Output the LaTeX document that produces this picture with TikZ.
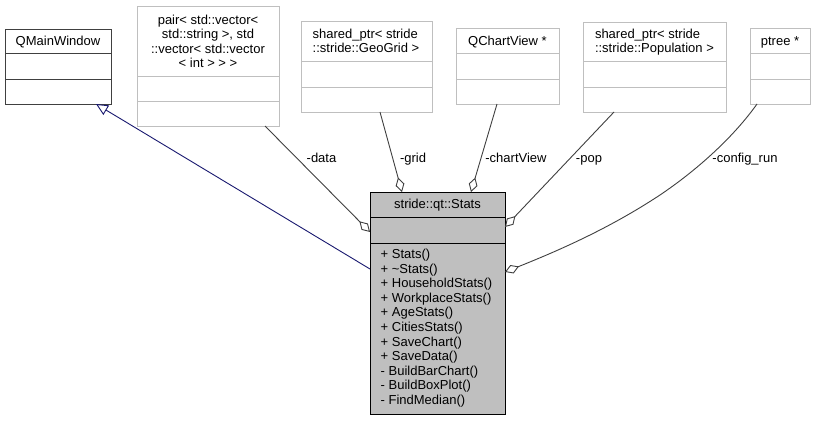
\documentclass[tikz,border=0pt]{standalone}
\usepackage{fontspec}
\setmainfont{Liberation Sans}
\usetikzlibrary{arrows.meta}
\definecolor{edgec}{HTML}{404040}
\definecolor{lightc}{HTML}{BFBFBF}
\definecolor{navyc}{HTML}{191970}
\definecolor{statsfill}{HTML}{BFBFBF}
\newcommand{\dfont}{\fontsize{13}{14.6}\selectfont}
\begin{document}
\begin{tikzpicture}[x=1pt,y=-1pt,
  every node/.style={inner sep=0pt, outer sep=0pt},
  classbox/.style={draw=lightc, line width=1pt, rectangle, anchor=north west},
  basebox/.style={draw=edgec, line width=1pt, rectangle, anchor=north west},
  mainbox/.style={draw=black, fill=statsfill, line width=1pt, rectangle, anchor=north west},
  aggr/.style={draw=edgec, line width=0.9pt, -{Diamond[open, length=15pt, width=9pt]}},
  inherit/.style={draw=navyc, line width=0.9pt, -{Triangle[open, length=12pt, width=11pt]}},
  ctext/.style={anchor=base, font=\dfont},
  ltext/.style={anchor=base west, font=\dfont}]
\useasboundingbox (0,0) rectangle (815,421);
\fill[white] (0,0) rectangle (815,421);

% QMainWindow
\node[basebox, minimum width=106pt, minimum height=75pt] (qmw) at (5,29) {};
\draw[edgec, line width=1pt] (5,53) -- (111,53) (5,79) -- (111,79);
\node[ctext] (qmwt) at (58,45) {QMainWindow};

% pair box
\node[classbox, minimum width=142pt, minimum height=120pt] (pair) at (137,6) {};
\draw[lightc, line width=1pt] (137,76) -- (279,76) (137,101) -- (279,101);
\node[ctext] (pair1) at (208,24) {pair< std::vector<};
\node[ctext] (pair2) at (208,38.5) {std::string >, std};
\node[ctext] (pair3) at (208,53) {::vector< std::vector};
\node[ctext] (pair4) at (208,67.5) {< int > > >};

% GeoGrid
\node[classbox, minimum width=131pt, minimum height=91pt] (geo) at (301,21) {};
\draw[lightc, line width=1pt] (301,61) -- (432,61) (301,87) -- (432,87);
\node[ltext] (geo1) at (312.7,38) {shared\_ptr< stride};
\node[ltext] (geo2) at (312.7,52.5) {::stride::GeoGrid >};

% QChartView
\node[classbox, minimum width=103pt, minimum height=76pt] (qcv) at (456,28) {};
\draw[lightc, line width=1pt] (456,53) -- (559,53) (456,79) -- (559,79);
\node[ctext] (qcvt) at (507.5,45) {QChartView *};

% Population
\node[classbox, minimum width=143pt, minimum height=90pt] (popb) at (583,22) {};
\draw[lightc, line width=1pt] (583,61) -- (726,61) (583,87) -- (726,87);
\node[ltext] (pop1) at (595,38) {shared\_ptr< stride};
\node[ltext] (pop2) at (595,52.5) {::stride::Population >};

% ptree
\node[classbox, minimum width=60pt, minimum height=76pt] (ptree) at (750,28) {};
\draw[lightc, line width=1pt] (750,53) -- (810,53) (750,79) -- (810,79);
\node[ctext] (ptreet) at (780,45) {ptree *};

% Stats
\node[mainbox, minimum width=135pt, minimum height=222pt] (stats) at (370,192) {};
\draw[black, line width=1pt] (370,217) -- (505,217) (370,243) -- (505,243);
\node[ctext] (statst) at (437.5,208.5) {stride::qt::Stats};
\node[ltext] (m1) at (380.7,258.5) {+ Stats()};
\node[ltext] (m2) at (380.7,273.1) {+ \textasciitilde Stats()};
\node[ltext] (m3) at (380.7,287.7) {+ HouseholdStats()};
\node[ltext] (m4) at (380.7,302.3) {+ WorkplaceStats()};
\node[ltext] (m5) at (380.7,316.9) {+ AgeStats()};
\node[ltext] (m6) at (380.7,331.5) {+ CitiesStats()};
\node[ltext] (m7) at (380.7,346.1) {+ SaveChart()};
\node[ltext] (m8) at (380.7,360.7) {+ SaveData()};
\node[ltext] (m9) at (380.7,375.3) {- BuildBarChart()};
\node[ltext] (m10) at (380.7,389.9) {- BuildBoxPlot()};
\node[ltext] (m11) at (380.7,404.5) {- FindMedian()};

% connectors
\draw[inherit] ([yshift=-77pt]stats.north west) -- ([xshift=91pt]qmw.south west);
\draw[aggr] ([xshift=128pt]pair.south west) -- ([yshift=-40pt]stats.north west);
\draw[aggr] ([xshift=79pt]geo.south west) -- ([xshift=32pt]stats.north west);
\draw[aggr] ([xshift=41pt]qcv.south west) -- ([xshift=101pt]stats.north west);
\draw[aggr] ([xshift=31pt]popb.south west) -- ([yshift=-35pt]stats.north east);
\draw[aggr] ([xshift=7pt]ptree.south west) .. controls (735,135) and (700,168) .. (660,195)
  .. controls (610,228) and (560,250) .. ([yshift=-80pt]stats.north east);

% labels
\node[ctext] (ldata) at (321.5,162.5) {-data};
\node[ctext] (lgrid) at (413,162.5) {-grid};
\node[ctext] (lcv) at (516,162.5) {-chartView};
\node[ctext] (lpop) at (589,162.5) {-pop};
\node[ctext] (lcr) at (745,162.5) {-config\_run};
\end{tikzpicture}
\end{document}
